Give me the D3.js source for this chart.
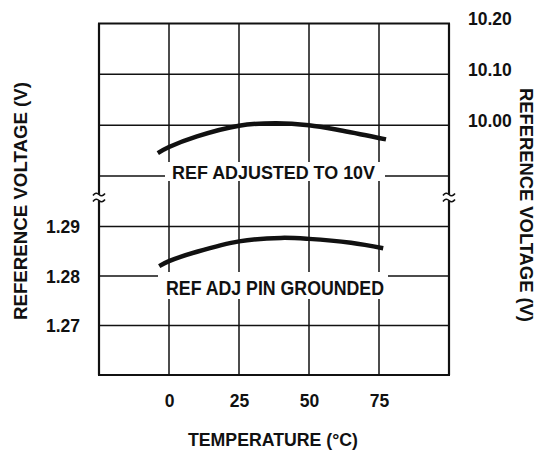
<!DOCTYPE html>
<html>
<head>
  <meta charset="utf-8">
  <script src="https://d3js.org/d3.v7.min.js"></script>
  <style>
    body { margin: 0; background: #fff; }
    text { font-family: "Liberation Sans", Arial, sans-serif; font-weight: bold; fill: #111; }
    .grid line { stroke: #111; stroke-width: 1.5; }
    .axis .domain { stroke: none; }
    .axis line { stroke: none; }
  </style>
</head>
<body>
<svg id="chart" width="540" height="454"></svg>
<script>
// data
const xTicks = [0, 25, 50, 75];
const upperTicks = [10.20, 10.10, 10.00];
const lowerTicks = [1.29, 1.28, 1.27];
const upperGrid = [10.20, 10.10, 10.00, 9.90];
const lowerGrid = [1.29, 1.28, 1.27, 1.26];

const adjTemps = [-4, 0, 10, 25, 38, 50, 62, 77.5];
const adjVolts = [9.945, 9.957, 9.978, 9.999, 10.004, 10.000, 9.989, 9.972];
const gndTemps = [-3.5, 0, 10, 25, 40, 50, 65, 76.5];
const gndVolts = [1.2820, 1.2830, 1.2849, 1.2870, 1.2877, 1.2875, 1.2867, 1.2856];

const svg = d3.select("#chart");
const plotLeft = 99, plotRight = 449, plotTop = 23.5, plotBottom = 375;

const x = d3.scaleLinear().domain([-25, 100]).range([plotLeft, plotRight]);
const yTop = d3.scaleLinear().domain([9.90, 10.20]).range([176, plotTop]);
const yBot = d3.scaleLinear().domain([1.26, 1.29]).range([plotBottom, 226.5]);

// gridlines
const grid = svg.append("g").attr("class", "grid");
grid.selectAll("line.v").data(xTicks).join("line").attr("class", "v")
    .attr("x1", d => x(d)).attr("x2", d => x(d))
    .attr("y1", plotTop).attr("y2", plotBottom);
grid.selectAll("line.hu").data(upperGrid.slice(1)).join("line").attr("class", "hu")
    .attr("x1", plotLeft).attr("x2", plotRight)
    .attr("y1", d => yTop(d)).attr("y2", d => yTop(d));
grid.selectAll("line.hl").data(lowerGrid.slice(0, 3)).join("line").attr("class", "hl")
    .attr("x1", plotLeft).attr("x2", plotRight)
    .attr("y1", d => yBot(d)).attr("y2", d => yBot(d));

// frame: top & bottom, sides broken at the scale break
const frame = svg.append("g").attr("stroke", "#111").attr("stroke-width", 2.2).attr("fill", "none");
frame.append("line").attr("x1", plotLeft - 1).attr("x2", plotRight + 1).attr("y1", yTop(10.20)).attr("y2", yTop(10.20));
frame.append("line").attr("x1", plotLeft - 1).attr("x2", plotRight + 1).attr("y1", yBot(1.26)).attr("y2", yBot(1.26));
[plotLeft, plotRight].forEach(sx => {
  frame.append("line").attr("x1", sx).attr("x2", sx).attr("y1", plotTop).attr("y2", 194.5);
  frame.append("line").attr("x1", sx).attr("x2", sx).attr("y1", 200.5).attr("y2", plotBottom);
  [194.5, 200.5].forEach(sy => {
    frame.append("path").attr("stroke-width", 1.6)
      .attr("d", `M${sx - 6},${sy + 1} q3,-4 6,-1 t6,-1`);
  });
});

// curves
const line = d3.line().curve(d3.curveCatmullRom);
svg.append("path")
   .attr("d", line(adjTemps.map((t, i) => [x(t), yTop(adjVolts[i])])))
   .attr("fill", "none").attr("stroke", "#111").attr("stroke-width", 4.5);
svg.append("path")
   .attr("d", line(gndTemps.map((t, i) => [x(t), yBot(gndVolts[i])])))
   .attr("fill", "none").attr("stroke", "#111").attr("stroke-width", 4.5);

// curve labels with white boxes over the grid
svg.append("rect").attr("x", 165).attr("y", 162).attr("width", 220).attr("height", 19).attr("fill", "#fff");
svg.append("text").attr("x", 172).attr("y", 178.5)
   .attr("font-size", 18).attr("textLength", 203).attr("lengthAdjust", "spacingAndGlyphs")
   .text("REF ADJUSTED TO 10V");
svg.append("rect").attr("x", 158).attr("y", 272).attr("width", 230).attr("height", 27).attr("fill", "#fff");
svg.append("text").attr("x", 166).attr("y", 295)
   .attr("font-size", 20).attr("textLength", 218).attr("lengthAdjust", "spacingAndGlyphs")
   .text("REF ADJ PIN GROUNDED");

// axes
const xAxis = d3.axisBottom(x).tickValues(xTicks).tickSize(0).tickPadding(0).tickFormat(d3.format("d"));
svg.append("g").attr("class", "axis").attr("transform", "translate(0,407)").call(xAxis)
   .selectAll("text").attr("dy", 0).attr("font-size", 17.5);

const yAxisL = d3.axisLeft(yBot).tickValues(lowerTicks).tickSize(0).tickPadding(0).tickFormat(d3.format(".2f"));
svg.append("g").attr("class", "axis").attr("transform", "translate(80,0)").call(yAxisL)
   .selectAll("text").attr("dy", "0.36em").attr("font-size", 17.5);

const yAxisR = d3.axisRight(yTop).tickValues(upperTicks).tickSize(0).tickPadding(0).tickFormat(d3.format(".2f"));
svg.append("g").attr("class", "axis").attr("transform", "translate(468,-5)").call(yAxisR)
   .selectAll("text").attr("dy", "0.36em").attr("font-size", 17.5);
svg.selectAll(".axis").attr("font-family", null).attr("font-size", null);
svg.selectAll(".axis text").attr("fill", null);

// titles
svg.append("text").attr("x", 273).attr("y", 446).attr("text-anchor", "middle")
   .attr("font-size", 19).attr("textLength", 170).attr("lengthAdjust", "spacingAndGlyphs")
   .text("TEMPERATURE (°C)");
svg.append("text").attr("transform", "translate(27,201) rotate(-90)").attr("text-anchor", "middle")
   .attr("font-size", 19).attr("textLength", 238).attr("lengthAdjust", "spacingAndGlyphs")
   .text("REFERENCE VOLTAGE (V)");
svg.append("text").attr("transform", "translate(520,205) rotate(90)").attr("text-anchor", "middle")
   .attr("font-size", 19).attr("textLength", 234).attr("lengthAdjust", "spacingAndGlyphs")
   .text("REFERENCE VOLTAGE (V)");
</script>
</body>
</html>
